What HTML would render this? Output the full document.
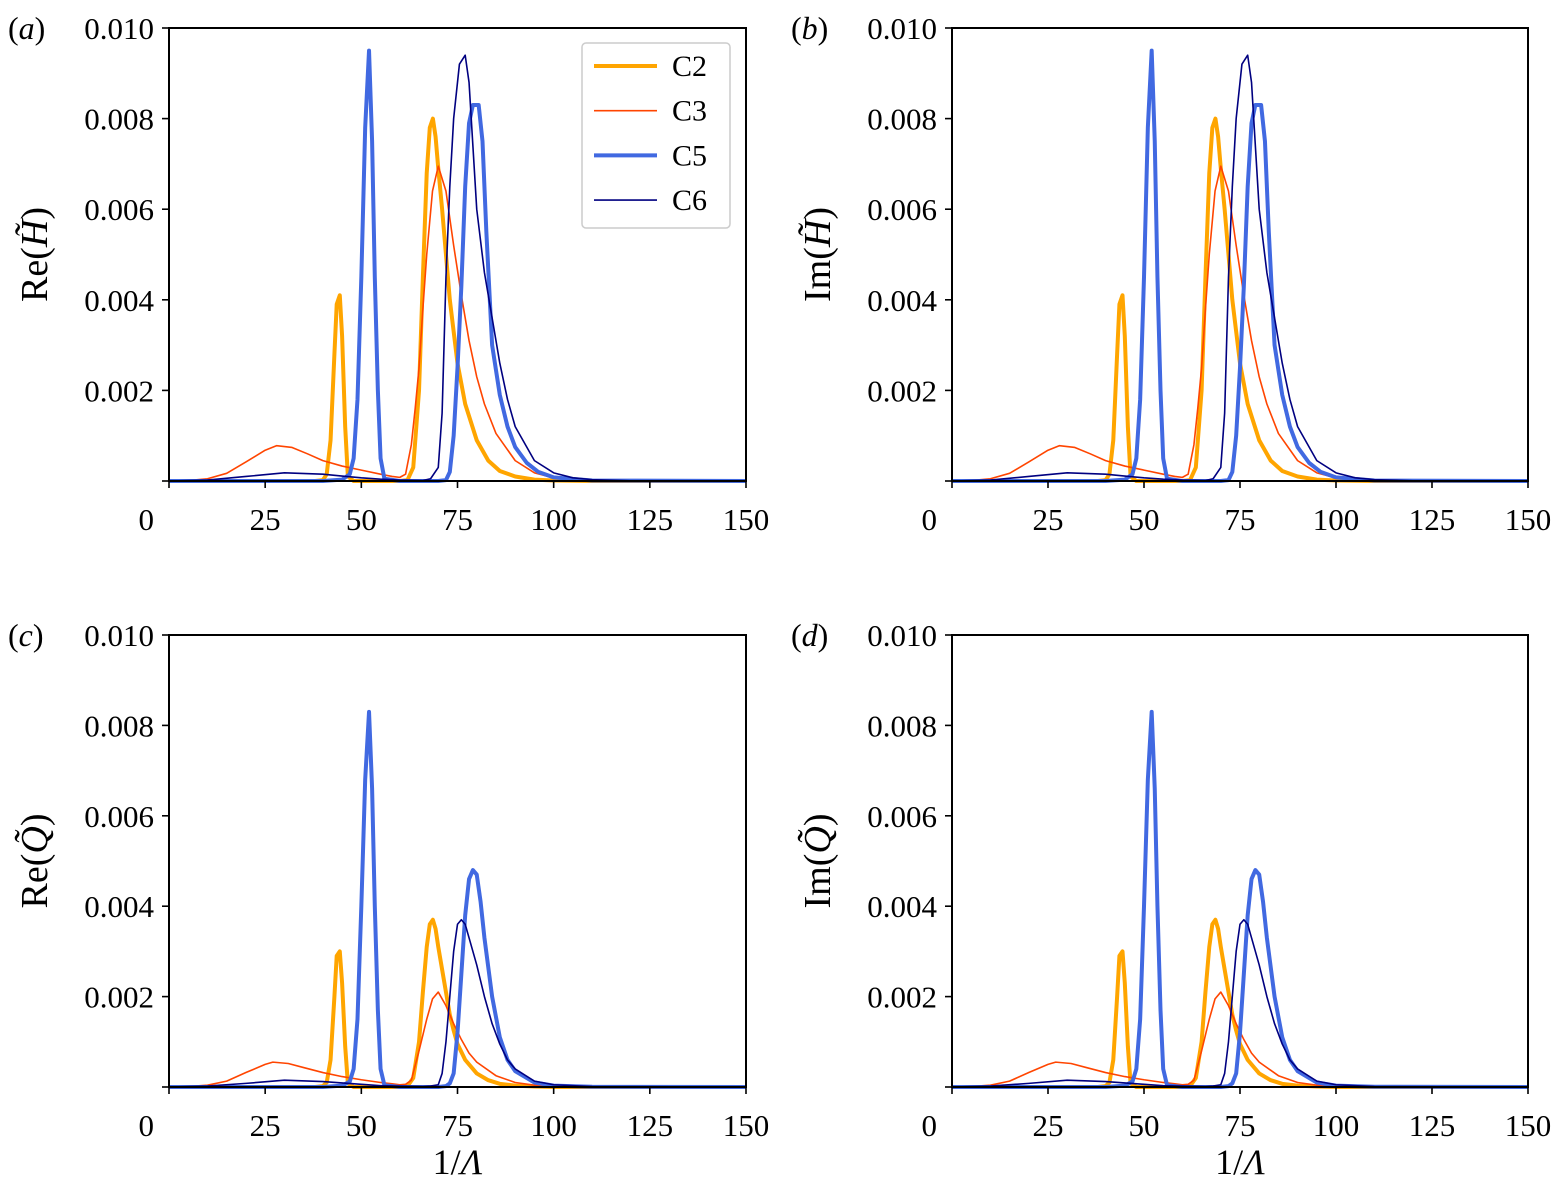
<!DOCTYPE html>
<html><head><meta charset="utf-8">
<style>
html,body{margin:0;padding:0;background:#fff;}
svg{display:block;font-family:"Liberation Serif",serif;}
</style></head>
<body>
<svg id="fig" width="1555" height="1189" viewBox="0 0 1555 1189" xmlns="http://www.w3.org/2000/svg"></svg>
<script>
// ---- data (values in units of 1e-3) ----
const xTicks = [0,25,50,75,100,125,150];
const xTickLabels = ["","25","50","75","100","125","150"];
const yTicks = [0,0.002,0.004,0.006,0.008,0.010];
const yTickLabels = ["0","0.002","0.004","0.006","0.008","0.010"];
const seriesNames = ["C2","C3","C5","C6"];

// Top panels (H)
const topC2x = [0,38,40,41,42,43,43.6,44.4,45,45.8,46.5,48,60,62,63.5,65,66,67,67.8,68.6,69.3,70,71,72,73,74,75,77,80,83,86,90,95,100,110,150];
const topC2y = [0,0,0.02,0.15,0.9,2.8,3.9,4.1,3.2,1.2,0.1,0,0,0.02,0.3,2.0,4.5,6.8,7.8,8.0,7.6,6.9,6.0,5.0,4.0,3.3,2.6,1.7,0.9,0.45,0.22,0.1,0.03,0.01,0,0];
const topC3x = [0,5,10,15,20,25,28,32,36,40,45,50,55,58,60,61.5,63,64,65,66,67,68.5,70,72,74,76,78,80,82,85,90,95,100,110,150];
const topC3y = [0,0.01,0.05,0.17,0.42,0.68,0.78,0.74,0.6,0.45,0.33,0.24,0.15,0.1,0.08,0.15,0.8,1.6,2.5,3.8,5.0,6.4,6.95,6.4,5.2,4.1,3.1,2.3,1.7,1.05,0.45,0.18,0.07,0.01,0];
const topC5x = [0,40,45,47,48,49,50,51,52,52.8,53.5,54.3,55,56,60,70,72,73,74,75,76,77,78,79,80.5,81.5,82.5,84,86,88,90,93,96,100,110,150];
const topC5y = [0,0,0.03,0.15,0.5,1.8,4.5,7.8,9.5,7.5,4.5,2.0,0.5,0.05,0,0,0.02,0.2,1.0,2.5,4.3,6.5,7.9,8.3,8.3,7.5,5.5,3.0,1.9,1.2,0.75,0.4,0.2,0.08,0.01,0];
const topC6x = [0,10,20,30,40,45,50,55,60,66,68,70,71,72,73,74,75.5,77,78,79,80,82,84,86,88,90,95,100,105,110,120,150];
const topC6y = [0,0.02,0.1,0.18,0.15,0.11,0.07,0.04,0.02,0.01,0.05,0.3,1.5,4.5,6.5,8.0,9.2,9.4,8.8,7.4,6.0,4.6,3.6,2.6,1.8,1.2,0.45,0.18,0.07,0.03,0.005,0];

// Bottom panels (Q)
const botC2x = [0,38,40,41,42,43,43.6,44.4,45,45.8,46.5,48,60,62,63.5,65,66,67,67.8,68.6,69.3,70,71,72,73,74,75,77,80,83,86,90,95,100,150];
const botC2y = [0,0,0.02,0.1,0.6,2.0,2.9,3.0,2.3,0.9,0.08,0,0,0.02,0.2,1.0,2.1,3.1,3.6,3.7,3.5,3.1,2.6,2.1,1.6,1.25,0.95,0.6,0.3,0.15,0.07,0.03,0.01,0,0];
const botC3x = [0,5,10,15,20,25,27,31,35,40,45,50,55,58,60,61.5,63,65,67,68.5,70,72,74,76,78,80,85,90,95,100,150];
const botC3y = [0,0.01,0.04,0.13,0.32,0.5,0.55,0.52,0.43,0.32,0.23,0.16,0.1,0.07,0.05,0.06,0.15,0.8,1.5,1.95,2.1,1.8,1.4,1.05,0.75,0.55,0.25,0.1,0.04,0.01,0];
const botC5x = [0,40,45,47,48,49,50,51,52,52.8,53.5,54.3,55,56,60,70,72,73,74,75,76,77,78,79,80,81,82,84,86,88,90,95,100,110,150];
const botC5y = [0,0,0.03,0.12,0.4,1.5,4.0,6.8,8.3,6.6,4.0,1.7,0.4,0.04,0,0,0.02,0.08,0.3,1.2,2.5,3.8,4.6,4.8,4.7,4.1,3.3,2.0,1.1,0.6,0.35,0.1,0.03,0.005,0];
const botC6x = [0,10,20,30,40,45,50,55,60,66,68,70,71,72,73,74,75,76,77,78,80,82,84,86,88,90,95,100,110,150];
const botC6y = [0,0.02,0.08,0.15,0.12,0.09,0.06,0.03,0.02,0.01,0.02,0.05,0.3,1.0,2.0,3.0,3.6,3.7,3.6,3.3,2.7,2.0,1.4,0.95,0.6,0.4,0.13,0.05,0.01,0];

const styles = {C2:{c:"#FFA500",w:4},C3:{c:"#FF4500",w:1.6},C5:{c:"#4169E1",w:4},C6:{c:"#000080",w:1.6}};

const NS="http://www.w3.org/2000/svg";
const svg=document.getElementById('fig');
function el(tag,attrs,parent){const e=document.createElementNS(NS,tag);for(const k in attrs)e.setAttribute(k,attrs[k]);(parent||svg).appendChild(e);return e;}

const panels=[
 {id:'a',x0:169,x1:746,y0:481,y1:28,ylab:'Re',q:'H',data:[[topC2x,topC2y],[topC3x,topC3y],[topC5x,topC5y],[topC6x,topC6y]],legend:true,xtitle:false},
 {id:'b',x0:952,x1:1528,y0:481,y1:28,ylab:'Im',q:'H',data:[[topC2x,topC2y],[topC3x,topC3y],[topC5x,topC5y],[topC6x,topC6y]],legend:false,xtitle:false},
 {id:'c',x0:169,x1:746,y0:1087,y1:635,ylab:'Re',q:'Q',data:[[botC2x,botC2y],[botC3x,botC3y],[botC5x,botC5y],[botC6x,botC6y]],legend:false,xtitle:true},
 {id:'d',x0:952,x1:1528,y0:1087,y1:635,ylab:'Im',q:'Q',data:[[botC2x,botC2y],[botC3x,botC3y],[botC5x,botC5y],[botC6x,botC6y]],legend:false,xtitle:true}
];

panels.forEach(p=>{
  const g=el('g',{});
  
  
  const sx=v=>p.x0+(v/150)*(p.x1-p.x0);
  const sy=v=>p.y0-(v/0.010)*(p.y0-p.y1);
  p.data.forEach((d,i)=>{
    const name=seriesNames[i];
    const pts=d[0].map((x,j)=>sx(x).toFixed(2)+','+sy(d[1][j]*1e-3).toFixed(2)).join(' ');
    const pl=el('polyline',{points:pts,fill:'none',stroke:styles[name].c,'stroke-width':styles[name].w,'stroke-linejoin':'round'},g);
    
    
  });
  const fr=el('rect',{x:p.x0,y:p.y1,width:p.x1-p.x0,height:p.y0-p.y1,fill:'none',stroke:'#000','stroke-width':2},g);
  
  
  xTicks.forEach((t,i)=>{
    el('line',{x1:sx(t),x2:sx(t),y1:p.y0,y2:p.y0+7,stroke:'#000','stroke-width':1.6},g);
    const tx=el('text',{x:sx(t),y:p.y0+49,'font-size':31,'text-anchor':'middle'},g);
    tx.textContent=xTickLabels[i];
    
    
  });
  yTicks.forEach((t,i)=>{
    el('line',{x1:p.x0-7,x2:p.x0,y1:sy(t),y2:sy(t),stroke:'#000','stroke-width':1.6},g);
    const ty=el('text',{x:p.x0-15,y:i===0?p.y0+49:sy(t)+11,'font-size':31,'text-anchor':'end'},g);
    ty.textContent=yTickLabels[i];
    
    
  });
  const pl=el('text',{x:p.x0-161,y:p.y1+11,'font-size':32,'font-style':'italic'},g);
  pl.innerHTML='<tspan font-style="normal">(</tspan>'+p.id+'<tspan font-style="normal">)</tspan>';
  
  
  const cy=(p.y0+p.y1)/2;
  const yt=el('text',{x:0,y:0,'font-size':38,'text-anchor':'middle',transform:`translate(${p.x0-122},${cy}) rotate(-90)`},g);
  yt.innerHTML=p.ylab+'(<tspan font-style="italic">'+p.q+'\u0303</tspan>)';
  
  
  if(p.xtitle){
    const xt=el('text',{x:(p.x0+p.x1)/2,y:1174,'font-size':36,'text-anchor':'middle'},g);
    xt.innerHTML='1/<tspan font-style="italic">\u039B</tspan>';
    
    
  }
  if(p.legend){
    const lg=el('g',{},g);
    
    
    el('rect',{x:582,y:43,width:148,height:185,rx:4,fill:'#fff',stroke:'#ccc','stroke-width':1.5},lg);
    seriesNames.forEach((n,i)=>{
      const yy=66+i*44.7;
      const e=el('g',{},lg);
      
      
      el('line',{x1:594,x2:657,y1:yy,y2:yy,stroke:styles[n].c,'stroke-width':styles[n].w},e);
      el('text',{x:672,y:yy+10,'font-size':30},e).textContent=n;
    });
  }
});
</script>
</body></html>
